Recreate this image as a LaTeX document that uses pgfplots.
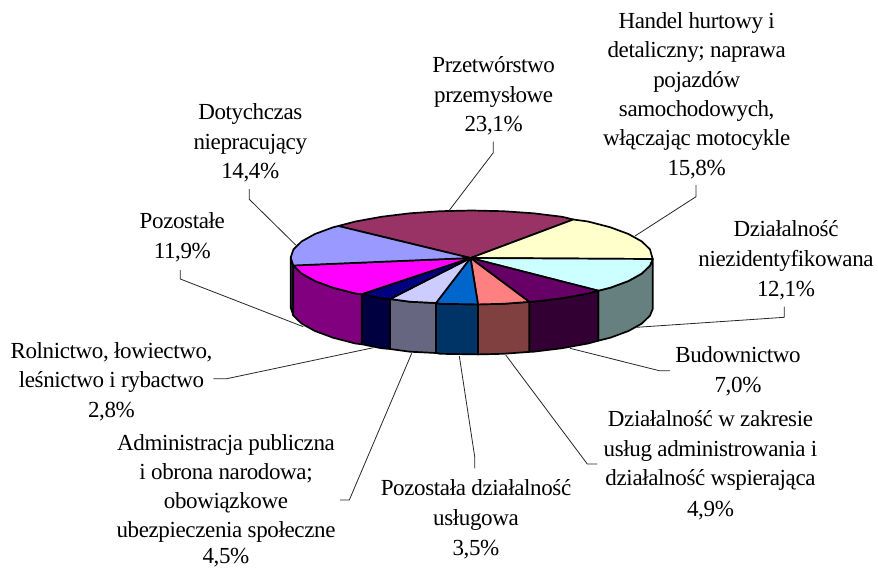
\documentclass[border=0pt]{standalone}
\usepackage{fontspec}
\setmainfont[LetterSpace=-1.6]{Liberation Serif}
\usepackage{pgfplots}
\pgfplotsset{compat=1.18}

\definecolor{cmaroon}{HTML}{993366}
\definecolor{cyellow}{HTML}{FFFFCC}
\definecolor{ccyan}{HTML}{CCFFFF}
\definecolor{cplum}{HTML}{660066}
\definecolor{csalmon}{HTML}{FF8080}
\definecolor{cblue}{HTML}{0066CC}
\definecolor{clav}{HTML}{CCCCFF}
\definecolor{cnavy}{HTML}{000080}
\definecolor{cmag}{HTML}{FF00FF}
\definecolor{cperi}{HTML}{9999FF}

% one line of a data label, at its centre and baseline
\newcommand{\lab}[3]{\node[anchor=base,inner sep=0pt,font=\fontsize{23}{23}\selectfont] at (axis cs:#1,#2) {#3};}

\pgfplotsset{
  slice/.style={fill=#1,draw=black,line width=1.7pt,line join=round},
  leader/.style={draw=black!85,line width=0.8pt,line join=miter},
}

\begin{document}
\begin{tikzpicture}
\path[use as bounding box] (0,0) rectangle (878pt,568pt);
\begin{axis}[
    at={(0,0)}, anchor=south west,
    scale only axis, width=878pt, height=568pt,
    xmin=0, xmax=878, ymin=0, ymax=568,
    y dir=reverse,
    hide axis,
    clip=false,
]

% side walls
\addplot[slice=cperi!50!black] coordinates {(290.7,257.5)(293.3,265.5)(293.3,315.5)(290.7,307.5)} -- cycle;
\addplot[slice=ccyan!50!black] coordinates {(598.3,290.7)(610.35,287.7)(628.45,281)(641.8,273.57)(649.95,265.66)(652.7,259)(652.7,309)(649.95,315.66)(641.8,323.57)(628.45,331)(610.35,337.7)(598.3,340.7)} -- cycle;
\addplot[slice=cplum!50!black] coordinates {(529.3,301.9)(533.6,301.7)(562.2,298.2)(588,293.5)(598.3,290.7)(598.3,340.7)(588,343.5)(562.2,348.2)(533.6,351.7)(529.3,351.9)} -- cycle;
\addplot[slice=csalmon!50!black] coordinates {(478,304.4)(503.1,303.8)(529.3,301.9)(529.3,351.9)(503.1,353.8)(478,354.4)} -- cycle;
\addplot[slice=cblue!50!black] coordinates {(436,303)(440.3,303.8)(478,304.4)(478,354.4)(440.3,353.8)(436,353)} -- cycle;
\addplot[slice=clav!50!black] coordinates {(390,299)(409.8,301.7)(436,303)(436,353)(409.8,351.7)(390,349)} -- cycle;
\addplot[slice=cnavy!50!black] coordinates {(361.7,294.2)(381.2,298.2)(390,299)(390,349)(381.2,348.2)(361.7,344.2)} -- cycle;
\addplot[slice=cmag!50!black] coordinates {(293.3,265.5)(301.6,273.57)(314.95,281)(333.05,287.7)(355.4,293.5)(361.7,294.2)(361.7,344.2)(355.4,343.5)(333.05,337.7)(314.95,331)(301.6,323.57)(293.3,315.5)} -- cycle;

% top face
\addplot[slice=cmaroon] coordinates {(470.5,258)(338.3,226)(355.4,221.5)(381.2,216.8)(409.8,213.3)(440.3,211.2)(471.7,210.5)(503.1,211.2)(533.6,213.3)(562.2,216.8)(573.3,219.5)} -- cycle;
\addplot[slice=cyellow] coordinates {(470.5,258)(573.3,219.5)(588,221.5)(610.35,227.3)(628.45,234)(641.8,241.43)(649.95,249.34)(652.7,259)} -- cycle;
\addplot[slice=ccyan] coordinates {(470.5,258)(652.7,259)(649.95,265.66)(641.8,273.57)(628.45,281)(610.35,287.7)(598.3,290.7)} -- cycle;
\addplot[slice=cplum] coordinates {(470.5,258)(598.3,290.7)(588,293.5)(562.2,298.2)(533.6,301.7)(529.3,301.9)} -- cycle;
\addplot[slice=csalmon] coordinates {(470.5,258)(529.3,301.9)(503.1,303.8)(478,304.4)} -- cycle;
\addplot[slice=cblue] coordinates {(470.5,258)(478,304.4)(440.3,303.8)(436,303)} -- cycle;
\addplot[slice=clav] coordinates {(470.5,258)(436,303)(409.8,301.7)(390,299)} -- cycle;
\addplot[slice=cnavy] coordinates {(470.5,258)(390,299)(381.2,298.2)(361.7,294.2)} -- cycle;
\addplot[slice=cmag] coordinates {(470.5,258)(361.7,294.2)(355.4,293.5)(333.05,287.7)(314.95,281)(301.6,273.57)(293.3,265.5)} -- cycle;
\addplot[slice=cperi] coordinates {(470.5,258)(293.3,265.5)(290.7,257.5)(293.45,249.34)(301.6,241.43)(314.95,234)(333.05,227.3)(338.3,226)} -- cycle;

% leader lines
\addplot[leader] coordinates {(493.3,141.7)(493.3,152.7)(449,210.7)};
\addplot[leader] coordinates {(696,185)(696,196.7)(635,236)};
\addplot[leader] coordinates {(784.3,306.7)(784.3,317.3)(636.7,327.3)};
\addplot[leader] coordinates {(670,370.7)(659.3,370.7)(570,348.3)};
\addplot[leader] coordinates {(597.3,464)(587.3,464)(505.7,355)};
\addplot[leader] coordinates {(474.7,468.3)(474.7,456.7)(459.3,356)};
\addplot[leader] coordinates {(340,500)(349.3,500)(411.7,353.3)};
\addplot[leader] coordinates {(213.3,378.7)(226.7,378.7)(373.3,347.7)};
\addplot[leader] coordinates {(180.3,270)(180.3,279)(303.3,326.7)};
\addplot[leader] coordinates {(249.3,189)(249.3,199.3)(295.7,245)};

% data labels
\lab{493.7}{72.7}{Przetwórstwo}
\lab{493.7}{102.7}{przemysłowe}
\lab{493.7}{131}{23,1\%}

\lab{696.7}{28.3}{Handel hurtowy i}
\lab{696.7}{57}{detaliczny; naprawa}
\lab{696.7}{87}{pojazdów}
\lab{696.7}{116.7}{samochodowych,}
\lab{696.7}{145}{włączając motocykle}
\lab{696.7}{175}{15,8\%}

\lab{786}{236.7}{Działalność}
\lab{786}{266}{niezidentyfikowana}
\lab{786}{296}{12,1\%}

\lab{738}{362.7}{Budownictwo}
\lab{738}{392.7}{7,0\%}

\lab{710.5}{426.7}{Działalność w zakresie}
\lab{710.5}{456.7}{usług administrowania i}
\lab{710.5}{485.7}{działalność wspierająca}
\lab{710.5}{516}{4,9\%}

\lab{476}{495.7}{Pozostała działalność}
\lab{476}{525.7}{usługowa}
\lab{476}{555}{3,5\%}

\lab{226}{450}{Administracja publiczna}
\lab{226}{479.3}{i obrona narodowa;}
\lab{226}{508.3}{obowiązkowe}
\lab{226}{537.7}{ubezpieczenia społeczne}
\lab{226}{563.5}{4,5\%}

\lab{111.5}{358.3}{Rolnictwo, łowiectwo,}
\lab{111.5}{387.7}{leśnictwo i rybactwo}
\lab{111.5}{417.3}{2,8\%}

\lab{182.3}{228.3}{Pozostałe}
\lab{182.3}{258.3}{11,9\%}

\lab{250.3}{119.3}{Dotychczas}
\lab{250.3}{149.3}{niepracujący}
\lab{250.3}{178.3}{14,4\%}

\end{axis}
\end{tikzpicture}
\end{document}
